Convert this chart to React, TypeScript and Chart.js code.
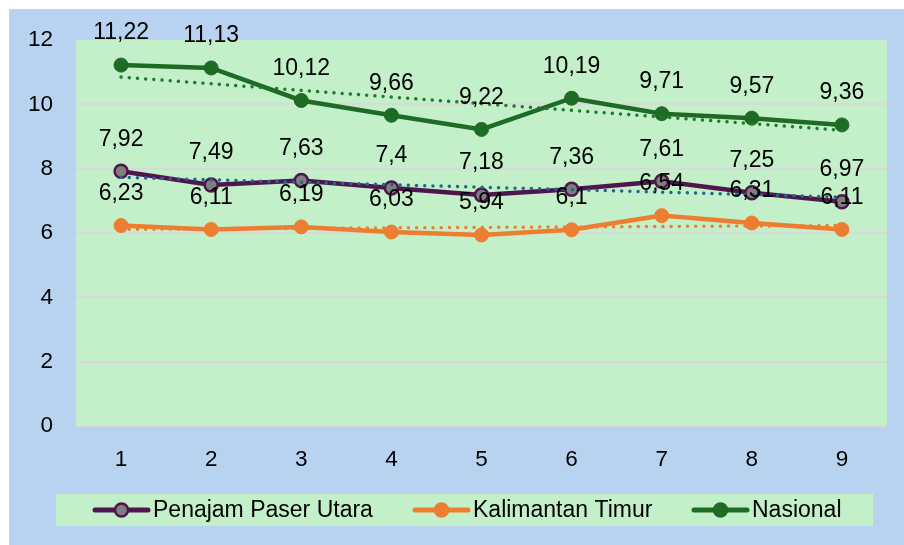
import React, { useEffect, useRef } from "react";
import { Chart, registerables } from "chart.js";

Chart.register(...registerables);

// ---- Data ----
const categories = ["1", "2", "3", "4", "5", "6", "7", "8", "9"];
const seriesNames = ["Penajam Paser Utara", "Kalimantan Timur", "Nasional"];
const penajamPaserUtara = [7.92, 7.49, 7.63, 7.4, 7.18, 7.36, 7.61, 7.25, 6.97];
const kalimantanTimur = [6.23, 6.11, 6.19, 6.03, 5.94, 6.1, 6.54, 6.31, 6.11];
const nasional = [11.22, 11.13, 10.12, 9.66, 9.22, 10.19, 9.71, 9.57, 9.36];
const yTickValues = [0, 2, 4, 6, 8, 10, 12];

// ---- Styles ----
const FONT = '"Liberation Sans", Arial, sans-serif';
const COLORS = {
  outer: "#B8D3EF",
  outerBorder: "#D4D4D4",
  plot: "#C3F0C9",
  grid: "#D9D9D9",
  purple: "#4F154D",
  purpleMarker: "#7F7F7F",
  orange: "#ED7D31",
  green: "#1E6B26",
  trendPpu: "#1F6692",
  trendKaltim: "#ED7D31",
  trendNas: "#1E7A2E",
};

// Excel-style linear trendline derived from a series
function linearTrend(values: number[]): number[] {
  const n = values.length;
  const xs = values.map((_, i) => i + 1);
  const mx = xs.reduce((a, b) => a + b, 0) / n;
  const my = values.reduce((a, b) => a + b, 0) / n;
  let sxy = 0;
  let sxx = 0;
  for (let i = 0; i < n; i++) {
    sxy += (xs[i] - mx) * (values[i] - my);
    sxx += (xs[i] - mx) * (xs[i] - mx);
  }
  const slope = sxy / sxx;
  return xs.map((x) => my + slope * (x - mx));
}

const fmt = (v: number) => String(v).replace(".", ",");

const backgroundPlugin = {
  id: "bgPlugin",
  beforeDraw(chart: any) {
    const { ctx, width, height, chartArea } = chart;
    ctx.save();
    ctx.fillStyle = "#FFFFFF";
    ctx.fillRect(0, 0, width, height);
    ctx.fillStyle = COLORS.outerBorder;
    ctx.fillRect(9, 9, width - 9, height - 9);
    ctx.fillStyle = COLORS.outer;
    ctx.fillRect(10, 10, width - 10, height - 10);
    ctx.fillStyle = COLORS.plot;
    ctx.fillRect(
      chartArea.left,
      chartArea.top,
      chartArea.right - chartArea.left,
      chartArea.bottom - chartArea.top
    );
    ctx.restore();
  },
};

const labelPlugin = {
  id: "labelPlugin",
  afterDatasetsDraw(chart: any) {
    const { ctx } = chart;
    ctx.save();
    ctx.font = `23px ${FONT}`;
    ctx.fillStyle = "#000000";
    ctx.textAlign = "center";
    ctx.textBaseline = "middle";
    chart.data.datasets.forEach((ds: any, di: number) => {
      if (!ds.showValueLabels) return;
      const meta = chart.getDatasetMeta(di);
      meta.data.forEach((pt: any, i: number) => {
        ctx.fillText(fmt(ds.data[i]), pt.x, pt.y - 32);
      });
    });
    ctx.restore();
  },
};

const legendPlugin = {
  id: "customLegend",
  afterDraw(chart: any) {
    const { ctx } = chart;
    const box = { x: 56, y: 494, w: 817, h: 32 };
    const cy = box.y + box.h / 2;
    ctx.save();
    ctx.fillStyle = COLORS.plot;
    ctx.fillRect(box.x, box.y, box.w, box.h);
    const starts = [93, 413, 692];
    const iconLen = 57;
    const items = [
      { line: COLORS.purple, fill: COLORS.purpleMarker, border: COLORS.purple },
      { line: COLORS.orange, fill: COLORS.orange, border: COLORS.orange },
      { line: COLORS.green, fill: COLORS.green, border: COLORS.green },
    ];
    items.forEach((it, i) => {
      const x0 = starts[i];
      ctx.strokeStyle = it.line;
      ctx.lineWidth = 5;
      ctx.lineCap = "round";
      ctx.beginPath();
      ctx.moveTo(x0 + 2, cy);
      ctx.lineTo(x0 + iconLen - 2, cy);
      ctx.stroke();
      ctx.beginPath();
      ctx.arc(x0 + iconLen / 2, cy, 6.5, 0, Math.PI * 2);
      ctx.fillStyle = it.fill;
      ctx.fill();
      ctx.lineWidth = 2.5;
      ctx.strokeStyle = it.border;
      ctx.stroke();
      ctx.fillStyle = "#000000";
      ctx.font = `23px ${FONT}`;
      ctx.textAlign = "left";
      ctx.textBaseline = "middle";
      ctx.fillText(seriesNames[i], x0 + iconLen + 3, cy + 1);
    });
    ctx.restore();
  },
};

export default function App() {
  const canvasRef = useRef<HTMLCanvasElement | null>(null);

  useEffect(() => {
    if (!canvasRef.current) return;
    const trendPpu = linearTrend(penajamPaserUtara);
    const trendKaltim = linearTrend(kalimantanTimur);
    const trendNas = linearTrend(nasional);

    const trendBase = {
      pointRadius: 0,
      pointHoverRadius: 0,
      borderWidth: 3.5,
      borderDash: [0.01, 8.2],
      borderCapStyle: "round",
      fill: false,
      tension: 0,
    };

    const chart = new Chart(canvasRef.current, {
      type: "line",
      data: {
        labels: categories,
        datasets: [
          {
            label: seriesNames[0],
            data: penajamPaserUtara,
            borderColor: COLORS.purple,
            backgroundColor: COLORS.purpleMarker,
            pointBackgroundColor: COLORS.purpleMarker,
            pointBorderColor: COLORS.purple,
            pointBorderWidth: 2.5,
            pointRadius: 6.5,
            borderWidth: 4.5,
            order: 6,
            showValueLabels: true,
          } as any,
          {
            label: seriesNames[1],
            data: kalimantanTimur,
            borderColor: COLORS.orange,
            backgroundColor: COLORS.orange,
            pointBackgroundColor: COLORS.orange,
            pointBorderColor: COLORS.orange,
            pointBorderWidth: 1,
            pointRadius: 7,
            borderWidth: 4.5,
            order: 5,
            showValueLabels: true,
          } as any,
          {
            label: seriesNames[2],
            data: nasional,
            borderColor: COLORS.green,
            backgroundColor: COLORS.green,
            pointBackgroundColor: COLORS.green,
            pointBorderColor: COLORS.green,
            pointBorderWidth: 1,
            pointRadius: 7,
            borderWidth: 4.5,
            order: 4,
            showValueLabels: true,
          } as any,
          { ...trendBase, label: "trendPpu", data: trendPpu, borderColor: COLORS.trendPpu, order: 1 } as any,
          { ...trendBase, label: "trendKaltim", data: trendKaltim, borderColor: COLORS.trendKaltim, order: 2 } as any,
          { ...trendBase, label: "trendNas", data: trendNas, borderColor: COLORS.trendNas, order: 3 } as any,
        ],
      },
      options: {
        responsive: false,
        animation: false,
        events: [],
        layout: { padding: { left: 10, right: 17, top: 40, bottom: 0 } },
        plugins: {
          legend: { display: false },
          tooltip: { enabled: false },
          title: { display: false },
        },
        scales: {
          x: {
            offset: true,
            grid: { display: false, drawTicks: false },
            border: { display: false },
            ticks: {
              color: "#000000",
              font: { family: FONT, size: 22.5 },
              padding: 20,
              maxRotation: 0,
            },
            afterFit: (scale: any) => {
              scale.height = 119;
            },
          },
          y: {
            min: 0,
            max: 12,
            afterBuildTicks: (scale: any) => {
              scale.ticks = yTickValues.map((v) => ({ value: v }));
            },
            grid: {
              drawTicks: false,
              lineWidth: 2,
              color: (ctx: any) =>
                ctx.tick && ctx.tick.value === 12 ? "rgba(0,0,0,0)" : COLORS.grid,
            },
            border: { display: false },
            ticks: {
              color: "#000000",
              font: { family: FONT, size: 22.5 },
              padding: 23,
            },
            afterFit: (scale: any) => {
              scale.width = 66;
            },
          },
        },
      } as any,
      plugins: [backgroundPlugin, labelPlugin, legendPlugin],
    });
    return () => chart.destroy();
  }, []);

  return (
    <div style={{ position: "fixed", left: 0, top: 0, width: 904, height: 545 }}>
      <canvas ref={canvasRef} width={904} height={545} style={{ display: "block" }} />
    </div>
  );
}
